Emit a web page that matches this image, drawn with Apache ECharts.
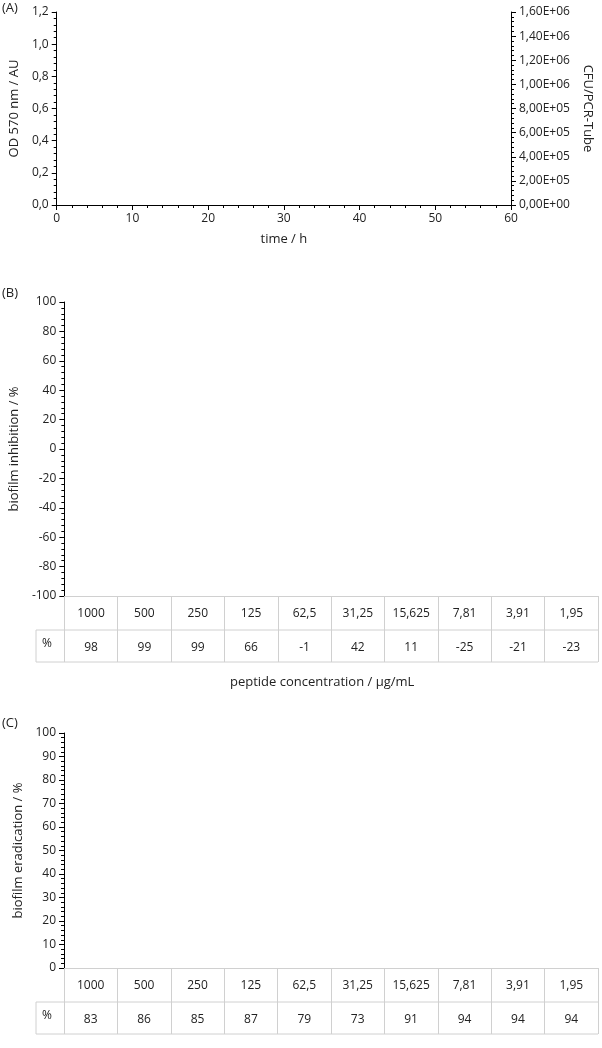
<!DOCTYPE html>
<html><head><meta charset="utf-8">
<script src="https://cdn.jsdelivr.net/npm/echarts@6/dist/echarts.min.js"></script>
<style>html,body{margin:0;background:#fff}#c{width:602px;height:1048px}</style>
</head><body><div id="c"></div>
<script>
// panel A
const timeOD = [0.5, 1, 1.5, 2, 2.5, 3, 4, 5, 6, 24, 48];
const od = [0.01, 0.03, 0.05, 0.06, 0.09, 0.14, 0.22, 0.22, 0.31, 0.88, 0.37];
const odErr = [0, 0, 0, 0, 0, 0, 0.02, 0.02, 0.02, 0.22, 0.03];
const timeCFU = [0.5, 1, 1.5, 2, 3, 4, 5, 6, 24, 48];
const cfu = [0, 0, 0, 0, 2e4, 1.0e5, 1.3e5, 1.7e5, 9.5e5, 7.9e5];
const cfuErr = [0, 0, 0, 0, 0, 1e4, 3e4, 5e4, 3.9e5, 2.6e5];
// panels B and C
const conc = ['1000', '500', '250', '125', '62,5', '31,25', '15,625', '7,81', '3,91', '1,95'];
const inhibition = [98, 99, 99, 66, -1, 42, 11, -25, -21, -23];
const inhibitionErr = [0, 0, 0, 4, 57, 16, 38, 39, 51, 57];
const eradication = [83, 86, 85, 87, 79, 73, 91, 94, 94, 94];
const eradicationErr = [6, 3, 5, 8, 9, 7, 1, 2, 0, 2];

const font = 'Open Sans';
const crossPath = 'path://M0,1L1,0L5,4L9,0L10,1L6,5L10,9L9,10L5,6L1,10L0,9L4,5Z';
const comma = (d) => (v) => v.toFixed(d).replace('.', ',');
function sci(v) {
  if (v === 0) return '0,00E+00';
  const e = Math.floor(Math.log10(v) + 1e-9);
  return (v / Math.pow(10, e)).toFixed(2).replace('.', ',') + 'E+' + String(e).padStart(2, '0');
}

function errSeries(xi, yi, data, color, cap) {
  return {
    type: 'custom', xAxisIndex: xi, yAxisIndex: yi, z: 5,
    data: data,
    renderItem: function (params, api) {
      const lo = api.coord([api.value(0), api.value(1)]);
      const hi = api.coord([api.value(0), api.value(2)]);
      if (Math.abs(lo[1] - hi[1]) < 0.5) return;
      const st = { stroke: color, lineWidth: 1 };
      return { type: 'group', children: [
        { type: 'line', shape: { x1: lo[0], y1: lo[1], x2: hi[0], y2: hi[1] }, style: st },
        { type: 'line', shape: { x1: lo[0] - cap, y1: lo[1], x2: lo[0] + cap, y2: lo[1] }, style: st },
        { type: 'line', shape: { x1: hi[0] - cap, y1: hi[1], x2: hi[0] + cap, y2: hi[1] }, style: st }
      ] };
    }
  };
}

const hatch = {
  symbol: 'rect', color: '#000', dashArrayX: [1, 0], dashArrayY: [2, 3], rotation: -Math.PI / 4, symbolSize: 1
};

function yAxisBar(gi, name, min, max, interval) {
  return {
    gridIndex: gi, type: 'value', min: min, max: max, interval: interval,
    name: name, nameLocation: 'middle', nameGap: 38,
    nameTextStyle: { fontFamily: font, fontSize: 13, color: '#222' },
    axisLine: { show: true, lineStyle: { color: '#000' } },
    axisTick: { show: true, lineStyle: { color: '#000' } },
    minorTick: { show: true, splitNumber: 5, lineStyle: { color: '#000' } },
    splitLine: { show: false },
    axisLabel: { fontFamily: font, fontSize: 12, color: '#222' }
  };
}
function tableAxis(gi, labels, offset, showLine) {
  return {
    gridIndex: gi, type: 'category', data: labels, position: 'bottom', offset: offset,
    axisLine: { show: showLine, onZero: false, lineStyle: { color: '#d0d0d0' } },
    axisTick: { show: showLine, length: 66, lineStyle: { color: '#d0d0d0' } },
    axisLabel: { fontFamily: font, fontSize: 12, color: '#222', margin: 12, interval: 0 }
  };
}
function tableLines(top) {
  const c = '#d0d0d0';
  return [
    { type: 'line', shape: { x1: 36, y1: top + 34, x2: 598, y2: top + 34 }, style: { stroke: c } },
    { type: 'line', shape: { x1: 36, y1: top + 66, x2: 598, y2: top + 66 }, style: { stroke: c } },
    { type: 'line', shape: { x1: 36, y1: top + 34, x2: 36, y2: top + 66 }, style: { stroke: c } },
    { type: 'text', left: 42, top: top + 42, style: { text: '%', font: '12px ' + font, fill: '#222' } }
  ];
}
function barSeries(xi, yi, values, withZeroLine) {
  const s = {
    type: 'bar', xAxisIndex: xi, yAxisIndex: yi, data: values, barWidth: 24,
    itemStyle: { color: '#fff', borderColor: '#000', borderWidth: 1, decal: hatch }
  };
  if (withZeroLine) {
    s.markLine = { silent: true, symbol: 'none', label: { show: false },
      lineStyle: { color: '#000', type: 'solid', width: 1 }, data: [{ yAxis: 0 }] };
  }
  return s;
}

const chart = echarts.init(document.getElementById('c'));
chart.setOption({
  animation: false,
  textStyle: { fontFamily: font },
  grid: [
    { left: 47, right: 84, top: 12, height: 193 },
    { left: 64, right: 4, top: 302, height: 294 },
    { left: 64, right: 4, top: 733, height: 235 }
  ],
  legend: {
    left: 'center', top: 252, itemGap: 18, itemWidth: 9, itemHeight: 9,
    textStyle: { fontFamily: font, fontSize: 12, color: '#222' },
    data: [{ name: 'total biofilm mass', icon: 'circle' }, { name: 'living cell number', icon: crossPath }]
  },
  xAxis: [
    {
      gridIndex: 0, type: 'value', min: 0, max: 60, interval: 10,
      name: 'time / h', nameLocation: 'middle', nameGap: 28,
      nameTextStyle: { fontFamily: font, fontSize: 13, color: '#222' },
      axisLine: { onZero: false, lineStyle: { color: '#000' } },
      axisTick: { show: true, lineStyle: { color: '#000' } },
      minorTick: { show: true, splitNumber: 5, lineStyle: { color: '#000' } },
      splitLine: { show: false },
      axisLabel: { fontFamily: font, fontSize: 12, color: '#222' }
    },
    tableAxis(1, conc, 0, true),
    tableAxis(1, inhibition.map(String), 34, false),
    tableAxis(2, conc, 0, true),
    tableAxis(2, eradication.map(String), 34, false)
  ],
  yAxis: [
    {
      gridIndex: 0, type: 'value', min: 0, max: 1.2, interval: 0.2,
      name: 'OD 570 nm / AU', nameLocation: 'middle', nameGap: 30,
      nameTextStyle: { fontFamily: font, fontSize: 13, color: '#222' },
      axisLine: { show: true, lineStyle: { color: '#000' } },
      axisTick: { show: true, lineStyle: { color: '#000' } },
      minorTick: { show: true, splitNumber: 5, lineStyle: { color: '#000' } },
      splitLine: { show: false },
      axisLabel: { fontFamily: font, fontSize: 12, color: '#222', formatter: comma(1) }
    },
    {
      gridIndex: 0, type: 'value', min: 0, max: 1.6e6, interval: 2e5, position: 'right',
      name: 'CFU/PCR-Tube', nameLocation: 'middle', nameGap: 70, nameRotate: -90,
      nameTextStyle: { fontFamily: font, fontSize: 13, color: '#222' },
      axisLine: { show: true, lineStyle: { color: '#000' } },
      axisTick: { show: true, lineStyle: { color: '#000' } },
      minorTick: { show: true, splitNumber: 5, lineStyle: { color: '#000' } },
      splitLine: { show: false },
      axisLabel: { fontFamily: font, fontSize: 12, color: '#222', formatter: sci }
    },
    yAxisBar(1, 'biofilm inhibition / %', -100, 100, 20),
    yAxisBar(2, 'biofilm eradication / %', 0, 100, 10)
  ],
  graphic: [
    { type: 'text', left: 2, top: 2, style: { text: '(A)', font: '13px ' + font, fill: '#222' } },
    { type: 'text', left: 2, top: 287, style: { text: '(B)', font: '13px ' + font, fill: '#222' } },
    { type: 'text', left: 2, top: 717, style: { text: '(C)', font: '13px ' + font, fill: '#222' } },
    { type: 'text', left: 230, top: 676, style: { text: 'peptide concentration / µg/mL', font: '13px ' + font, fill: '#222' } },
    { type: 'text', left: 230, top: 1048 - 0, style: { text: '', font: '13px ' + font } },
    { type: 'text', left: 230, top: 1047 - 0, style: { text: '', font: '13px ' + font } },
    { type: 'text', left: 230, top: 1048 - 0, style: { text: '', font: '13px ' + font } },
    { type: 'text', left: 230, top: 1046, style: { text: '', font: '13px ' + font } },
    { type: 'text', left: 230, top: 1046, style: { text: '', font: '13px ' + font } },
    { type: 'text', left: 230, top: 1046, style: { text: '', font: '13px ' + font } },
    { type: 'text', left: 230, top: 1046, style: { text: '', font: '13px ' + font } },
    { type: 'text', left: 230, top: 1048, style: { text: '', font: '13px ' + font } },
    { type: 'text', left: 230, top: 1048, style: { text: '', font: '13px ' + font } },
    { type: 'text', left: 230, top: 1048, style: { text: '', font: '13px ' + font } },
    { type: 'text', left: 230, top: 1048, style: { text: '', font: '13px ' + font } },
    { type: 'text', left: 230, top: 1048, style: { text: '', font: '13px ' + font } },
    { type: 'text', left: 230, top: 1048, style: { text: '', font: '13px ' + font } },
    { type: 'text', left: 230, top: 1048, style: { text: '', font: '13px ' + font } },
    { type: 'text', left: 230, top: 1048, style: { text: '', font: '13px ' + font } },
    { type: 'text', left: 230, top: 1048, style: { text: '', font: '13px ' + font } },
    { type: 'text', left: 230, top: 1048, style: { text: '', font: '13px ' + font } },
    { type: 'text', left: 230, top: 1048, style: { text: '', font: '13px ' + font } },
    { type: 'text', left: 230, top: 1048, style: { text: '', font: '13px ' + font } },
    { type: 'text', left: 230, top: 1048, style: { text: '', font: '13px ' + font } },
    { type: 'text', left: 230, top: 1048, style: { text: '', font: '13px ' + font } },
    { type: 'text', left: 230, top: 1048, style: { text: '', font: '13px ' + font } },
    { type: 'text', left: 230, top: 1048, style: { text: '', font: '13px ' + font } },
    { type: 'text', left: 230, top: 1048, style: { text: '', font: '13px ' + font } },
    { type: 'text', left: 230, top: 1048, style: { text: '', font: '13px ' + font } },
    { type: 'text', left: 230, top: 1048, style: { text: '', font: '13px ' + font } },
    { type: 'text', left: 230, top: 1048, style: { text: '', font: '13px ' + font } },
    { type: 'text', left: 230, top: 1048, style: { text: '', font: '13px ' + font } },
    { type: 'text', left: 230, top: 1048, style: { text: '', font: '13px ' + font } },
    { type: 'text', left: 230, top: 1048, style: { text: '', font: '13px ' + font } },
    { type: 'text', left: 230, top: 1048, style: { text: '', font: '13px ' + font } },
    { type: 'text', left: 230, top: 1048, style: { text: '', font: '13px ' + font } },
    { type: 'text', left: 230, top: 1048, style: { text: '', font: '13px ' + font } },
    { type: 'text', left: 230, top: 1048, style: { text: '', font: '13px ' + font } },
    { type: 'text', left: 230, top: 1048, style: { text: '', font: '13px ' + font } },
    { type: 'text', left: 230, top: 1048, style: { text: '', font: '13px ' + font } },
    { type: 'text', left: 230, top: 1048, style: { text: '', font: '13px ' + font } },
    { type: 'text', left: 230, top: 1048, style: { text: '', font: '13px ' + font } },
    { type: 'text', left: 230, top: 1048, style: { text: '', font: '13px ' + font } },
    { type: 'text', left: 230, top: 1048, style: { text: '', font: '13px ' + font } },
    { type: 'text', left: 230, top: 1048, style: { text: '', font: '13px ' + font } },
    { type: 'text', left: 230, top: 1048, style: { text: '', font: '13px ' + font } },
    { type: 'text', left: 230, top: 1048, style: { text: '', font: '13px ' + font } },
    { type: 'text', left: 230, top: 1048, style: { text: '', font: '13px ' + font } },
    { type: 'text', left: 230, top: 1048, style: { text: '', font: '13px ' + font } },
    { type: 'text', left: 230, top: 1048, style: { text: '', font: '13px ' + font } },
    { type: 'text', left: 230, top: 1048, style: { text: '', font: '13px ' + font } },
    { type: 'text', left: 230, top: 1048, style: { text: '', font: '13px ' + font } },
    { type: 'text', left: 230, top: 1048, style: { text: '', font: '13px ' + font } },
    { type: 'text', left: 230, top: 1048, style: { text: '', font: '13px ' + font } },
    { type: 'text', left: 230, top: 1048, style: { text: '', font: '13px ' + font } },
    { type: 'text', left: 230, top: 1048, style: { text: '', font: '13px ' + font } },
    { type: 'text', left: 230, top: 1048, style: { text: '', font: '13px ' + font } },
    { type: 'text', left: 230, top: 1048, style: { text: '', font: '13px ' + font } },
    { type: 'text', left: 230, top: 1048, style: { text: '', font: '13px ' + font } },
    { type: 'text', left: 230, top: 1048, style: { text: '', font: '13px ' + font } },
    { type: 'text', left: 230, top: 1048, style: { text: '', font: '13px ' + font } },
    { type: 'text', left: 230, top: 1048, style: { text: '', font: '13px ' + font } },
    { type: 'text', left: 230, top: 1048, style: { text: '', font: '13px ' + font } },
    { type: 'text', left: 230, top: 1048, style: { text: '', font: '13px ' + font } },
    { type: 'text', left: 230, top: 1048, style: { text: '', font: '13px ' + font } },
    { type: 'text', left: 230, top: 1048, style: { text: '', font: '13px ' + font } },
    { type: 'text', left: 230, top: 1048, style: { text: '', font: '13px ' + font } },
    { type: 'text', left: 230, top: 1048, style: { text: '', font: '13px ' + font } },
    { type: 'text', left: 230, top: 1048, style: { text: '', font: '13px ' + font } },
    { type: 'text', left: 230, top: 1048, style: { text: '', font: '13px ' + font } },
    { type: 'text', left: 230, top: 1048, style: { text: '', font: '13px ' + font } },
    { type: 'text', left: 230, top: 1048, style: { text: '', font: '13px ' + font } },
    { type: 'text', left: 230, top: 1048, style: { text: '', font: '13px ' + font } },
    { type: 'text', left: 230, top: 1048, style: { text: '', font: '13px ' + font } },
    { type: 'text', left: 230, top: 1048, style: { text: '', font: '13px ' + font } },
    { type: 'text', left: 230, top: 1048, style: { text: '', font: '13px ' + font } },
    { type: 'text', left: 230, top: 1048, style: { text: '', font: '13px ' + font } },
    { type: 'text', left: 230, top: 1048, style: { text: '', font: '13px ' + font } },
    { type: 'text', left: 230, top: 1048, style: { text: '', font: '13px ' + font } },
    { type: 'text', left: 230, top: 1048, style: { text: '', font: '13px ' + font } },
    { type: 'text', left: 230, top: 1048, style: { text: '', font: '13px ' + font } },
    { type: 'text', left: 230, top: 1048, style: { text: '', font: '13px ' + font } },
    { type: 'text', left: 230, top: 1048, style: { text: '', font: '13px ' + font } },
    { type: 'text', left: 230, top: 1048, style: { text: '', font: '13px ' + font } },
    { type: 'text', left: 230, top: 1048, style: { text: '', font: '13px ' + font } },
    { type: 'text', left: 230, top: 1048, style: { text: '', font: '13px ' + font } },
    { type: 'text', left: 230, top: 1048, style: { text: '', font: '13px ' + font } },
    { type: 'text', left: 230, top: 1048, style: { text: '', font: '13px ' + font } },
    { type: 'text', left: 230, top: 1048, style: { text: '', font: '13px ' + font } },
    { type: 'text', left: 230, top: 1048, style: { text: '', font: '13px ' + font } },
    { type: 'text', left: 230, top: 1048, style: { text: '', font: '13px ' + font } },
    { type: 'text', left: 230, top: 1048, style: { text: '', font: '13px ' + font } },
    { type: 'text', left: 230, top: 1048, style: { text: '', font: '13px ' + font } },
    { type: 'text', left: 230, top: 1048, style: { text: '', font: '13px ' + font } },
    { type: 'text', left: 230, top: 1048, style: { text: '', font: '13px ' + font } },
    { type: 'text', left: 230, top: 1048, style: { text: '', font: '13px ' + font } },
    { type: 'text', left: 230, top: 1048, style: { text: '', font: '13px ' + font } },
    { type: 'text', left: 230, top: 1048, style: { text: '', font: '13px ' + font } },
    { type: 'text', left: 230, top: 1048, style: { text: '', font: '13px ' + font } },
    { type: 'text', left: 230, top: 1048, style: { text: '', font: '13px ' + font } },
    { type: 'text', left: 230, top: 1048, style: { text: '', font: '13px ' + font } },
    { type: 'text', left: 230, top: 1048, style: { text: '', font: '13px ' + font } },
    { type: 'text', left: 230, top: 1048, style: { text: '', font: '13px ' + font } },
    { type: 'text', left: 230, top: 1048, style: { text: '', font: '13px ' + font } },
    { type: 'text', left: 230, top: 1048, style: { text: '', font: '13px ' + font } },
    { type: 'text', left: 230, top: 1048, style: { text: '', font: '13px ' + font } },
    { type: 'text', left: 230, top: 1048, style: { text: '', font: '13px ' + font } },
    { type: 'text', left: 230, top: 1048, style: { text: '', font: '13px ' + font } },
    { type: 'text', left: 230, top: 1048, style: { text: '', font: '13px ' + font } },
    { type: 'text', left: 230, top: 1048, style: { text: '', font: '13px ' + font } },
    { type: 'text', left: 230, top: 1048, style: { text: '', font: '13px ' + font } },
    { type: 'text', left: 230, top: 1048, style: { text: '', font: '13px ' + font } },
    { type: 'text', left: 230, top: 1048, style: { text: '', font: '13px ' + font } },
    { type: 'text', left: 230, top: 1048, style: { text: '', font: '13px ' + font } },
    { type: 'text', left: 230, top: 1048, style: { text: '', font: '13px ' + font } },
    { type: 'text', left: 230, top: 1048, style: { text: '', font: '13px ' + font } },
    { type: 'text', left: 230, top: 1048, style: { text: '', font: '13px ' + font } },
    { type: 'text', left: 230, top: 1048, style: { text: '', font: '13px ' + font } },
    { type: 'text', left: 230, top: 1048, style: { text: '', font: '13px ' + font } },
    { type: 'text', left: 230, top: 1048, style: { text: '', font: '13px ' + font } },
    { type: 'text', left: 230, top: 1048, style: { text: '', font: '13px ' + font } },
    { type: 'text', left: 230, top: 1048, style: { text: '', font: '13px ' + font } },
    { type: 'text', left: 230, top: 1048, style: { text: '', font: '13px ' + font } },
    { type: 'text', left: 230, top: 1048, style: { text: '', font: '13px ' + font } },
    { type: 'text', left: 230, top: 1048, style: { text: '', font: '13px ' + font } },
    { type: 'text', left: 230, top: 1048, style: { text: '', font: '13px ' + font } },
    { type: 'text', left: 230, top: 1048, style: { text: '', font: '13px ' + font } },
    { type: 'text', left: 230, top: 1048, style: { text: '', font: '13px ' + font } },
    { type: 'text', left: 230, top: 1048, style: { text: '', font: '13px ' + font } },
    { type: 'text', left: 230, top: 1048, style: { text: '', font: '13px ' + font } },
    { type: 'text', left: 230, top: 1048, style: { text: '', font: '13px ' + font } },
    { type: 'text', left: 230, top: 1048, style: { text: '', font: '13px ' + font } },
    { type: 'text', left: 230, top: 1048, style: { text: '', font: '13px ' + font } },
    { type: 'text', left: 230, top: 1048, style: { text: '', font: '13px ' + font } },
    { type: 'text', left: 230, top: 1048, style: { text: '', font: '13px ' + font } },
    { type: 'text', left: 230, top: 1048, style: { text: '', font: '13px ' + font } },
    { type: 'text', left: 230, top: 1048, style: { text: '', font: '13px ' + font } },
    { type: 'text', left: 230, top: 1048, style: { text: '', font: '13px ' + font } },
    { type: 'text', left: 230, top: 1048, style: { text: '', font: '13px ' + font } },
    { type: 'text', left: 230, top: 1048, style: { text: '', font: '13px ' + font } },
    { type: 'text', left: 230, top: 1048, style: { text: '', font: '13px ' + font } },
    { type: 'text', left: 230, top: 1048, style: { text: '', font: '13px ' + font } },
    { type: 'text', left: 230, top: 1048, style: { text: '', font: '13px ' + font } },
    { type: 'text', left: 230, top: 1048, style: { text: '', font: '13px ' + font } },
    { type: 'text', left: 230, top: 1048, style: { text: '', font: '13px ' + font } },
    { type: 'text', left: 230, top: 1048, style: { text: '', font: '13px ' + font } },
    { type: 'text', left: 230, top: 1048, style: { text: '', font: '13px ' + font } },
    { type: 'text', left: 230, top: 1048, style: { text: '', font: '13px ' + font } },
    { type: 'text', left: 230, top: 1048, style: { text: '', font: '13px ' + font } },
    { type: 'text', left: 230, top: 1048, style: { text: '', font: '13px ' + font } },
    { type: 'text', left: 230, top: 1048, style: { text: '', font: '13px ' + font } },
    { type: 'text', left: 230, top: 1048, style: { text: '', font: '13px ' + font } },
    { type: 'text', left: 230, top: 1048, style: { text: '', font: '13px ' + font } },
    { type: 'text', left: 230, top: 1048, style: { text: '', font: '13px ' + font } },
    { type: 'text', left: 230, top: 1048, style: { text: '', font: '13px ' + font } },
    { type: 'text', left: 230, top: 1048, style: { text: '', font: '13px ' + font } },
    { type: 'text', left: 230, top: 1048, style: { text: '', font: '13px ' + font } },
    { type: 'text', left: 230, top: 1048, style: { text: '', font: '13px ' + font } },
    { type: 'text', left: 230, top: 1048, style: { text: '', font: '13px ' + font } },
    { type: 'text', left: 230, top: 1048, style: { text: '', font: '13px ' + font } },
    { type: 'text', left: 230, top: 1048, style: { text: '', font: '13px ' + font } },
    { type: 'text', left: 230, top: 1048, style: { text: '', font: '13px ' + font } },
    { type: 'text', left: 230, top: 1048, style: { text: '', font: '13px ' + font } },
    { type: 'text', left: 230, top: 1048, style: { text: '', font: '13px ' + font } },
    { type: 'text', left: 230, top: 1048, style: { text: '', font: '13px ' + font } },
    { type: 'text', left: 230, top: 1048, style: { text: '', font: '13px ' + font } },
    { type: 'text', left: 230, top: 1048, style: { text: '', font: '13px ' + font } },
    { type: 'text', left: 230, top: 1048, style: { text: '', font: '13px ' + font } },
    { type: 'text', left: 230, top: 1048, style: { text: '', font: '13px ' + font } },
    { type: 'text', left: 230, top: 1048, style: { text: '', font: '13px ' + font } },
    { type: 'text', left: 230, top: 1048, style: { text: '', font: '13px ' + font } },
    { type: 'text', left: 230, top: 1048, style: { text: '', font: '13px ' + font } },
    { type: 'text', left: 230, top: 1048, style: { text: '', font: '13px ' + font } },
    { type: 'text', left: 230, top: 1048, style: { text: '', font: '13px ' + font } },
    { type: 'text', left: 230, top: 1048, style: { text: '', font: '13px ' + font } },
    { type: 'text', left: 230, top: 1048, style: { text: '', font: '13px ' + font } },
    { type: 'text', left: 230, top: 1048, style: { text: '', font: '13px ' + font } },
    { type: 'text', left: 230, top: 1048, style: { text: '', font: '13px ' + font } },
    { type: 'text', left: 230, top: 1048, style: { text: '', font: '13px ' + font } },
    { type: 'text', left: 230, top: 1048, style: { text: '', font: '13px ' + font } },
    { type: 'text', left: 230, top: 1048, style: { text: '', font: '13px ' + font } },
    { type: 'text', left: 230, top: 1048, style: { text: '', font: '13px ' + font } },
    { type: 'text', left: 230, top: 1048, style: { text: '', font: '13px ' + font } },
    { type: 'text', left: 230, top: 1048, style: { text: '', font: '13px ' + font } },
    { type: 'text', left: 230, top: 1048, style: { text: '', font: '13px ' + font } },
    { type: 'text', left: 230, top: 1048, style: { text: '', font: '13px ' + font } },
    { type: 'text', left: 230, top: 1048, style: { text: '', font: '13px ' + font } },
    { type: 'text', left: 230, top: 1048, style: { text: '', font: '13px ' + font } },
    { type: 'text', left: 230, top: 1048, style: { text: '', font: '13px ' + font } },
    { type: 'text', left: 230, top: 1048, style: { text: '', font: '13px ' + font } },
    { type: 'text', left: 230, top: 1048, style: { text: '', font: '13px ' + font } },
    { type: 'text', left: 230, top: 1048, style: { text: '', font: '13px ' + font } },
    { type: 'text', left: 230, top: 1048, style: { text: '', font: '13px ' + font } },
    { type: 'text', left: 230, top: 1048, style: { text: '', font: '13px ' + font } },
    { type: 'text', left: 230, top: 1048, style: { text: '', font: '13px ' + font } },
    { type: 'text', left: 230, top: 1048, style: { text: '', font: '13px ' + font } },
    { type: 'text', left: 230, top: 1048, style: { text: '', font: '13px ' + font } },
    { type: 'text', left: 230, top: 1048, style: { text: '', font: '13px ' + font } },
    { type: 'text', left: 230, top: 1048, style: { text: '', font: '13px ' + font } },
    { type: 'text', left: 230, top: 1048, style: { text: '', font: '13px ' + font } },
    { type: 'text', left: 230, top: 1048, style: { text: '', font: '13px ' + font } },
    { type: 'text', left: 230, top: 1048, style: { text: '', font: '13px ' + font } },
    { type: 'text', left: 230, top: 1048, style: { text: '', font: '13px ' + font } },
    { type: 'text', left: 230, top: 1048, style: { text: '', font: '13px ' + font } },
    { type: 'text', left: 230, top: 1048, style: { text: '', font: '13px ' + font } },
    { type: 'text', left: 230, top: 1048, style: { text: '', font: '13px ' + font } },
    { type: 'text', left: 230, top: 1048, style: { text: '', font: '13px ' + font } },
    { type: 'text', left: 230, top: 1048, style: { text: '', font: '13px ' + font } }
  ].concat(tableLines(596), tableLines(968), [
    { type: 'text', left: 230, top: 1048, style: { text: '', font: '13px ' + font } }
  ]),
  series: []
});
</script></body></html>
